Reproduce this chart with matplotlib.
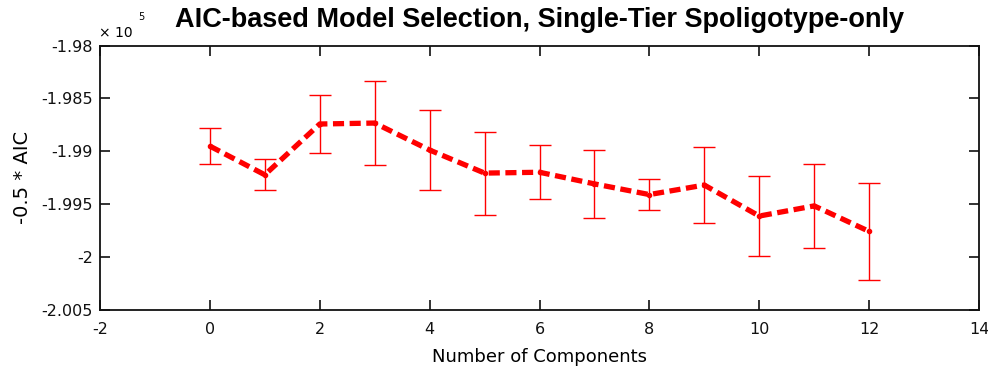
import matplotlib
matplotlib.use("Agg")
import matplotlib.pyplot as plt
from matplotlib.ticker import FuncFormatter, FixedLocator

plt.rcParams['font.family'] = ['DejaVu Sans']
plt.rcParams['lines.scale_dashes'] = False
plt.rcParams['axes.unicode_minus'] = False

components = [0, 1, 2, 3, 4, 5, 6, 7, 8, 9, 10, 11, 12]
neg_half_aic = [-198951, -199222, -198742, -198733, -198988, -199206, -199198,
                -199308, -199409, -199319, -199612, -199516, -199757]
err = [170, 148, 272, 401, 382, 393, 253, 319, 149, 362, 380, 395, 456]

title = "AIC-based Model Selection, Single-Tier Spoligotype-only"
xlabel = "Number of Components"
ylabel = "-0.5 * AIC"
yticks = [-198000, -198500, -199000, -199500, -200000, -200500]
xticks = [-2, 0, 2, 4, 6, 8, 10, 12, 14]

fig = plt.figure(figsize=(9.88, 3.70), dpi=100)
ax = fig.add_axes([100/988, 60/370, 879/988, 264.5/370])

ax.errorbar(components, neg_half_aic, yerr=err, fmt='none', ecolor='#ff0000',
            elinewidth=1.0, capsize=8, capthick=1.0, zorder=2)
ax.plot(components, neg_half_aic, color='#ff0000', linewidth=3.8,
        dashes=(8, 4), marker='.', markersize=6, zorder=3)

ax.set_xlim(-2, 14)
ax.set_ylim(-200500, -198000)
ax.xaxis.set_major_locator(FixedLocator(xticks))
ax.yaxis.set_major_locator(FixedLocator(yticks))
ax.yaxis.set_major_formatter(FuncFormatter(lambda v, p: "%g" % (v / 1e5)))
ax.tick_params(direction='in', length=7, width=1.2, top=True, right=True,
               labelsize=11.5, colors='#111111')
ax.tick_params(axis='x', pad=9)
ax.tick_params(axis='y', pad=5)
for s in ax.spines.values():
    s.set_linewidth(1.3)
    s.set_color('#111111')

ax.set_title(title, fontsize=19.5, fontweight='bold', pad=13,
             family=['Liberation Sans', 'DejaVu Sans'])
ax.set_xlabel(xlabel, fontsize=13)
ax.set_ylabel(ylabel, fontsize=14)
ax.xaxis.set_label_coords(0.5, -(357 - 310) / 264.5)
ax.xaxis.label.set_va('center')
ax.yaxis.set_label_coords(-(100 - 23) / 879, 0.5)
ax.yaxis.label.set_va('center')
fig.text(99/988, 1 - 37/370, "\u00d7 10", fontsize=10, ha='left', va='baseline')
fig.text(138/988, 1 - 20/370, "5", fontsize=7, ha='left', va='baseline')

fig.savefig("out.png", dpi=100, facecolor='white')
